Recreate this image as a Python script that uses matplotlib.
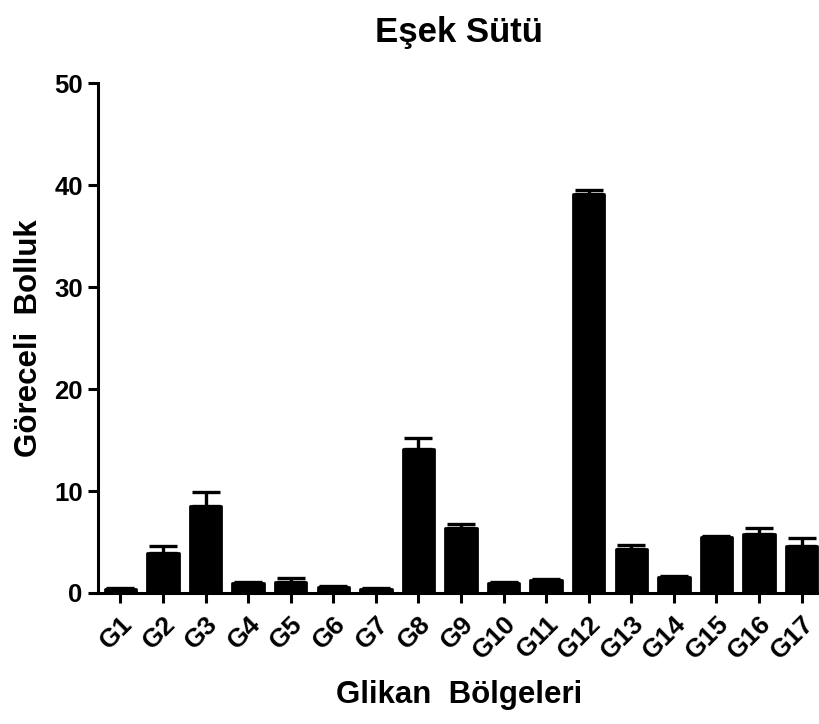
import numpy as np
import matplotlib.pyplot as plt

plt.rcParams['font.family'] = ['Liberation Sans', 'DejaVu Sans']
plt.rcParams['font.weight'] = 'bold'

labels = ['G1', 'G2', 'G3', 'G4', 'G5', 'G6', 'G7', 'G8', 'G9', 'G10',
          'G11', 'G12', 'G13', 'G14', 'G15', 'G16', 'G17']
means = [0.4, 3.9, 8.5, 1.0, 1.1, 0.6, 0.4, 14.1, 6.4, 1.0,
         1.3, 39.1, 4.3, 1.6, 5.5, 5.8, 4.6]
errs = [0.1, 0.7, 1.4, 0.1, 0.4, 0.1, 0.05, 1.1, 0.4, 0.1,
        0.1, 0.4, 0.4, 0.1, 0.1, 0.6, 0.8]

fig = plt.figure(figsize=(8.19, 7.24), dpi=100)
ax = fig.add_axes([0.12, 0.181, 0.88, 0.704])

x = np.arange(len(labels))
ax.bar(x, means, width=0.74, color='black', edgecolor='black', linewidth=2,
       joinstyle='round', zorder=3)
ax.errorbar(x, means, yerr=[np.zeros(len(errs)), errs], fmt='none',
            ecolor='black', elinewidth=2.4, capsize=10, capthick=2.4, zorder=2)

ax.set_xlim(-0.52, 16.41)
ax.set_ylim(0, 50)
ax.set_yticks([0, 10, 20, 30, 40, 50])
ax.set_xticks(x)
ax.set_xticklabels(labels, rotation=45, ha='right', rotation_mode='anchor')

for s in ['top', 'right']:
    ax.spines[s].set_visible(False)
for s in ['left', 'bottom']:
    ax.spines[s].set_linewidth(2.2)

ax.tick_params(axis='both', width=2.2, length=7.2)
ax.tick_params(axis='y', labelsize=18.5, pad=4)
ax.tick_params(axis='x', labelsize=19, pad=6)

ax.set_title('Eşek Sütü', fontsize=25, fontweight='bold', pad=30)
ax.set_xlabel('Glikan  Bölgeleri', fontsize=22.5, fontweight='bold', labelpad=12)
ax.set_ylabel('Göreceli  Bolluk', fontsize=22.5, fontweight='bold', labelpad=7)

fig.savefig('out.png', dpi=100)
